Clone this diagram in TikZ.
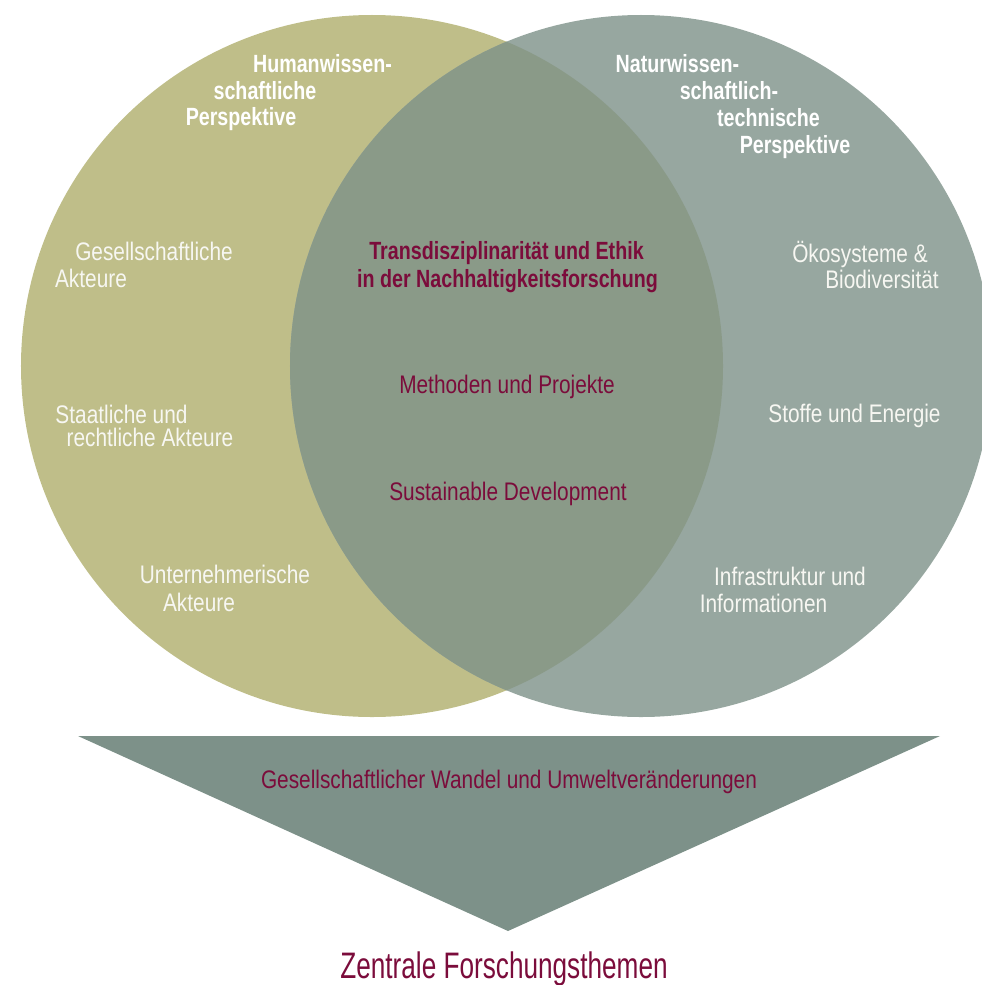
\documentclass[tikz,border=0pt]{standalone}
\usepackage{fontspec}
\newfontfamily\condr[FakeStretch=0.82]{Liberation Sans}
\newfontfamily\condb[FakeStretch=0.79]{Liberation Sans Bold}
\newfontfamily\condz[FakeStretch=0.71]{Liberation Sans}
\definecolor{leftc}{HTML}{BFBE89}
\definecolor{rightc}{HTML}{97A7A0}
\definecolor{midc}{HTML}{8A9A88}
\definecolor{tric}{HTML}{7D9189}
\definecolor{darkred}{HTML}{7B0C3B}
\definecolor{lighttxt}{HTML}{F7F7F2}
\tikzset{
  hdr/.style={anchor=base,inner sep=0pt,text=white,font=\condb\fontsize{25}{26}\selectfont},
  ttl/.style={anchor=base,inner sep=0pt,text=darkred,font=\condb\fontsize{25}{26}\selectfont},
  lbl/.style={anchor=base,inner sep=0pt,text=lighttxt,font=\condr\fontsize{25.5}{26}\selectfont},
  rlbl/.style={anchor=base,inner sep=0pt,text=darkred,font=\condr\fontsize{25.5}{26}\selectfont},
}
\begin{document}
\begin{tikzpicture}[x=1bp,y=-1bp]
\useasboundingbox (0,0) rectangle (982,985);
\clip (0,0) rectangle (982,985);
\fill[leftc] (372,366) circle[radius=351bp];
\fill[rightc] (641,366) circle[radius=351bp];
\begin{scope}
  \clip (372,366) circle[radius=351bp];
  \fill[midc] (641,366) circle[radius=351bp];
\end{scope}
\fill[tric] (78,736) -- (940,736) -- (508,931) -- cycle;

\node[hdr] (h1) at (322.5,72) {Humanwissen-};
\node[hdr] (h2) at (265,99) {schaftliche};
\node[hdr] (h3) at (241,125) {Perspektive};
\node[hdr] (n1) at (677.5,72) {Naturwissen-};
\node[hdr] (n2) at (729,99) {schaftlich-};
\node[hdr] (n3) at (768.5,126) {technische};
\node[hdr] (n4) at (795,153) {Perspektive};

\node[ttl] (t1) at (506.5,259) {Transdisziplinarität und Ethik};
\node[ttl] (t2) at (507.5,287) {in der Nachhaltigkeitsforschung};

\node[lbl] (g1) at (154,260) {Gesellschaftliche};
\node[lbl] (g2) at (91,287) {Akteure};
\node[lbl] (s1) at (121.5,423) {Staatliche und};
\node[lbl] (s2) at (150,446) {rechtliche Akteure};
\node[lbl] (u1) at (225,583) {Unternehmerische};
\node[lbl] (u2) at (199,611) {Akteure};
\node[lbl] (o1) at (860,262) {Ökosysteme \&};
\node[lbl] (o2) at (882,288) {Biodiversität};
\node[lbl] (e1) at (854.5,422) {Stoffe und Energie};
\node[lbl] (i1) at (790,585) {Infrastruktur und};
\node[lbl] (i2) at (763.5,612) {Informationen};

\node[rlbl] (m) at (507,393) {Methoden und Projekte};
\node[rlbl] (sd) at (508,500) {Sustainable Development};
\node[rlbl] (gw) at (509,788) {Gesellschaftlicher Wandel und Umweltveränderungen};
\node[anchor=base,inner sep=0pt,text=darkred,font=\condz\fontsize{37}{40}\selectfont] (zf) at (504,978) {Zentrale Forschungsthemen};
\end{tikzpicture}
\end{document}
